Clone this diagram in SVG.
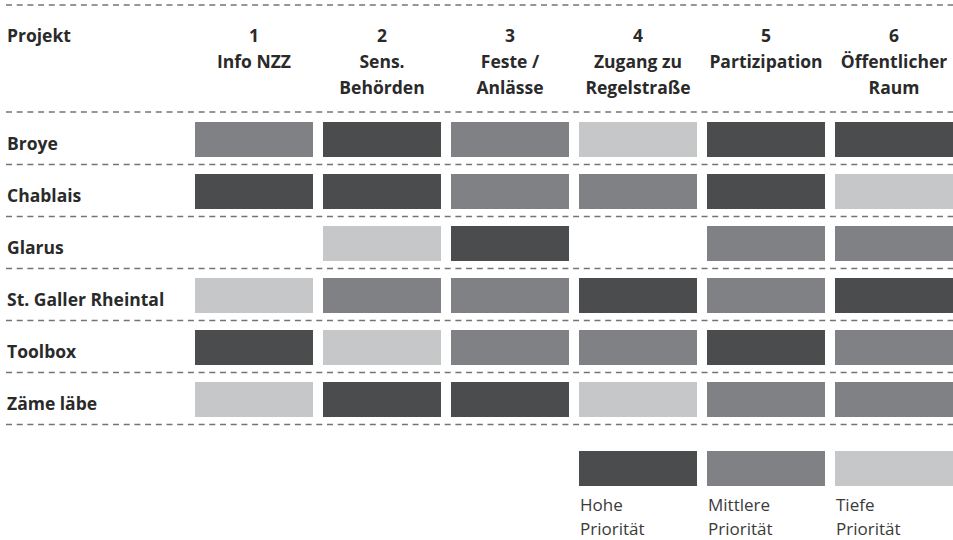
<svg xmlns="http://www.w3.org/2000/svg" width="953" height="540" viewBox="0 0 953 540">
<style>
.d{fill:#4b4c4e}.m{fill:#808184}.l{fill:#c6c7c8}
.dash{stroke:#747476;stroke-width:1.5;stroke-dasharray:6 4.7;fill:none}
.h{font-family:"Open Sans","Noto Sans",sans-serif;font-weight:bold;font-size:17.5px;fill:#2a2a2a}
.c{text-anchor:middle}
.g{font-family:"Open Sans","Noto Sans",sans-serif;font-size:17px;fill:#3a3a3a}
</style>
<g id="connectors">
<line class="dash" x1="6" y1="5" x2="953" y2="5"/>
<line class="dash" x1="6" y1="112" x2="953" y2="112"/>
<line class="dash" x1="6" y1="164.5" x2="953" y2="164.5"/>
<line class="dash" x1="6" y1="216.5" x2="953" y2="216.5"/>
<line class="dash" x1="6" y1="268.5" x2="953" y2="268.5"/>
<line class="dash" x1="6" y1="320.5" x2="953" y2="320.5"/>
<line class="dash" x1="6" y1="372.5" x2="953" y2="372.5"/>
<line class="dash" x1="6" y1="424.5" x2="953" y2="424.5"/>
</g>
<g id="header">
<text class="h" x="7" y="42">Projekt</text>
<text class="h c" x="254" y="42">1</text>
<text class="h c" x="254" y="68">Info NZZ</text>
<text class="h c" x="382" y="42">2</text>
<text class="h c" x="382" y="68">Sens.</text>
<text class="h c" x="382" y="94">Behörden</text>
<text class="h c" x="510" y="42">3</text>
<text class="h c" x="510" y="68">Feste / </text>
<text class="h c" x="510" y="94">Anlässe</text>
<text class="h c" x="638" y="42">4</text>
<text class="h c" x="638" y="68">Zugang zu</text>
<text class="h c" x="638" y="94">Regelstraße</text>
<text class="h c" x="766" y="42">5</text>
<text class="h c" x="766" y="68">Partizipation</text>
<text class="h c" x="894" y="42">6</text>
<text class="h c" x="894" y="68">Öffentlicher</text>
<text class="h c" x="894" y="94">Raum</text>
</g>
<g id="row-broye">
<text class="h" x="7" y="150">Broye</text>
<rect class="m" x="195" y="122" width="118" height="35"/>
<rect class="d" x="323" y="122" width="118" height="35"/>
<rect class="m" x="451" y="122" width="118" height="35"/>
<rect class="l" x="579" y="122" width="118" height="35"/>
<rect class="d" x="707" y="122" width="118" height="35"/>
<rect class="d" x="835" y="122" width="118" height="35"/>
</g>
<g id="row-chablais">
<text class="h" x="7" y="202">Chablais</text>
<rect class="d" x="195" y="174" width="118" height="35"/>
<rect class="d" x="323" y="174" width="118" height="35"/>
<rect class="m" x="451" y="174" width="118" height="35"/>
<rect class="m" x="579" y="174" width="118" height="35"/>
<rect class="d" x="707" y="174" width="118" height="35"/>
<rect class="l" x="835" y="174" width="118" height="35"/>
</g>
<g id="row-glarus">
<text class="h" x="7" y="254">Glarus</text>
<rect class="l" x="323" y="226" width="118" height="35"/>
<rect class="d" x="451" y="226" width="118" height="35"/>
<rect class="m" x="707" y="226" width="118" height="35"/>
<rect class="m" x="835" y="226" width="118" height="35"/>
</g>
<g id="row-stgaller">
<text class="h" x="7" y="306">St. Galler Rheintal</text>
<rect class="l" x="195" y="278" width="118" height="35"/>
<rect class="m" x="323" y="278" width="118" height="35"/>
<rect class="m" x="451" y="278" width="118" height="35"/>
<rect class="d" x="579" y="278" width="118" height="35"/>
<rect class="m" x="707" y="278" width="118" height="35"/>
<rect class="d" x="835" y="278" width="118" height="35"/>
</g>
<g id="row-toolbox">
<text class="h" x="7" y="358">Toolbox</text>
<rect class="d" x="195" y="330" width="118" height="35"/>
<rect class="l" x="323" y="330" width="118" height="35"/>
<rect class="m" x="451" y="330" width="118" height="35"/>
<rect class="m" x="579" y="330" width="118" height="35"/>
<rect class="d" x="707" y="330" width="118" height="35"/>
<rect class="m" x="835" y="330" width="118" height="35"/>
</g>
<g id="row-zaeme">
<text class="h" x="7" y="410">Zäme läbe</text>
<rect class="l" x="195" y="382" width="118" height="35"/>
<rect class="d" x="323" y="382" width="118" height="35"/>
<rect class="d" x="451" y="382" width="118" height="35"/>
<rect class="l" x="579" y="382" width="118" height="35"/>
<rect class="m" x="707" y="382" width="118" height="35"/>
<rect class="m" x="835" y="382" width="118" height="35"/>
</g>
<g id="legend">
<rect class="d" x="579" y="451" width="118" height="35"/>
<rect class="m" x="707" y="451" width="118" height="35"/>
<rect class="l" x="835" y="451" width="118" height="35"/>
<text class="g" x="580" y="511">Hohe</text>
<text class="g" x="580" y="535">Priorität</text>
<text class="g" x="708" y="511">Mittlere</text>
<text class="g" x="708" y="535">Priorität</text>
<text class="g" x="836" y="511">Tiefe</text>
<text class="g" x="836" y="535">Priorität</text>
</g>
</svg>
